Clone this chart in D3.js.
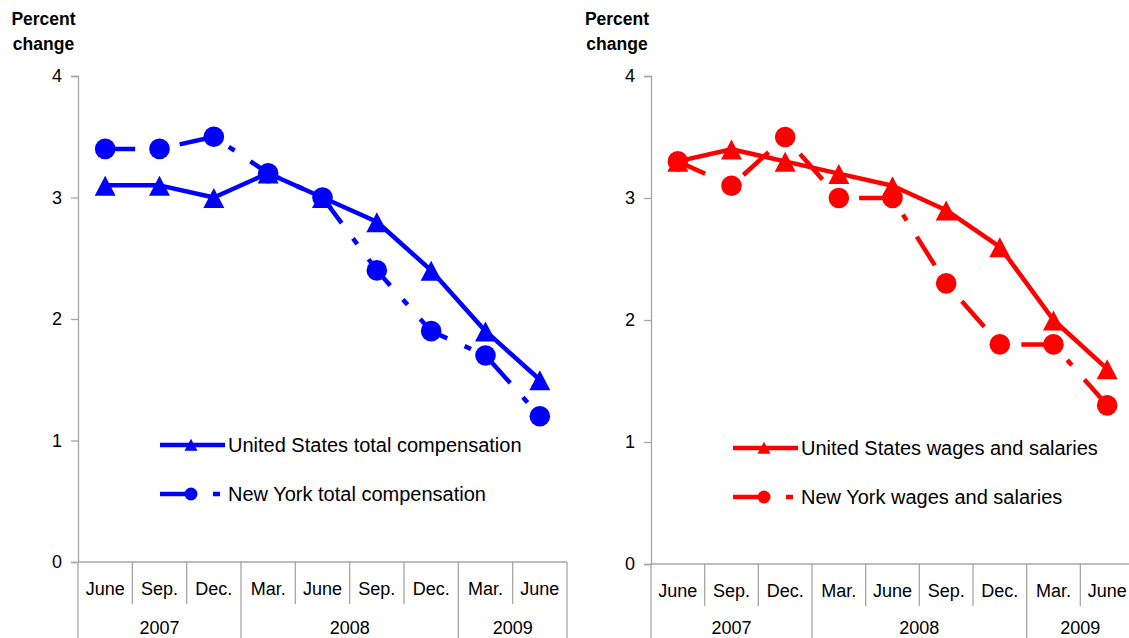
<!DOCTYPE html>
<html><head><meta charset="utf-8">
<script src="https://cdn.jsdelivr.net/npm/d3@7"></script>
<style>
body{margin:0;background:#fff;}
svg{display:block;font-family:"Liberation Sans",Arial,sans-serif;}
</style></head>
<body>
<svg id="chart" width="1129" height="638"></svg>
<script>
// ---- data ----
const periods = ["2007Q2","2007Q3","2007Q4","2008Q1","2008Q2","2008Q3","2008Q4","2009Q1","2009Q2"];
const monthLabels = ["June","Sep.","Dec.","Mar.","June","Sep.","Dec.","Mar.","June"];
const years = ["2007","2008","2009"];
const yearCounts = [3,4,2];
const yTicks = [0,1,2,3,4];

const usTotalComp = [3.1,3.1,3.0,3.2,3.0,2.8,2.4,1.9,1.5];
const nyTotalComp = [3.4,3.4,3.5,3.2,3.0,2.4,1.9,1.7,1.2];
const usWages = [3.3,3.4,3.3,3.2,3.1,2.9,2.6,2.0,1.6];
const nyWages = [3.3,3.1,3.5,3.0,3.0,2.3,1.8,1.8,1.3];

const legendLeft = ["United States total compensation","New York total compensation"];
const legendRight = ["United States wages and salaries","New York wages and salaries"];

const svg = d3.select("#chart");
const dashPattern = "34,19,7,19";
const gray = "#a6a6a6";

function triPath(w,h){
  return `M0,${-h*0.53}L${w/2},${h*0.47}L${-w/2},${h*0.47}Z`;
}

function panel(cfg){
  const g = svg.append("g");
  const x = d3.scaleBand().domain(periods).range([cfg.x0, cfg.x1]);
  const y = d3.scaleLinear().domain([0,4]).range([cfg.yb, cfg.yt]);
  const cx = (i)=>x(periods[i])+x.bandwidth()/2;

  // y axis
  const ya = g.append("g").attr("transform",`translate(${cfg.x0},0)`)
    .call(d3.axisLeft(y).tickValues(yTicks).tickSize(7).tickPadding(9).tickFormat(d3.format("d")));
  ya.select(".domain").attr("stroke",gray).attr("stroke-width",1.3);
  ya.selectAll(".tick line").attr("stroke",gray).attr("stroke-width",1.3);
  ya.selectAll(".tick text").attr("font-size",18).attr("fill","#000")
    .attr("font-family","Liberation Sans, Arial, sans-serif");

  // y title
  const t = g.append("text").attr("font-weight","bold").attr("font-size",17.5).attr("fill","#000")
    .attr("text-anchor","middle");
  t.append("tspan").attr("x",cfg.titleX).attr("y",25).text("Percent");
  t.append("tspan").attr("x",cfg.titleX).attr("y",50).text("change");

  // x axis line
  g.append("line").attr("x1",cfg.x0).attr("x2",cfg.x1).attr("y1",cfg.yb).attr("y2",cfg.yb)
    .attr("stroke",gray).attr("stroke-width",1.3);
  const yearStarts = [];
  let acc = 0; yearCounts.forEach(c=>{yearStarts.push(acc); acc+=c;});
  periods.forEach((p,i)=>{
    const isYear = yearStarts.includes(i);
    g.append("line").attr("x1",x(p)).attr("x2",x(p))
      .attr("y1",cfg.yb).attr("y2", isYear ? 640 : cfg.yb+42)
      .attr("stroke",gray).attr("stroke-width",1.3);
    g.append("text").attr("x",cx(i)).attr("y",cfg.yb+33)
      .attr("text-anchor","middle").attr("font-size",18).attr("fill","#000").text(monthLabels[i]);
  });
  g.append("line").attr("x1",cfg.x1).attr("x2",cfg.x1).attr("y1",cfg.yb).attr("y2",640)
    .attr("stroke",gray).attr("stroke-width",1.3);
  years.forEach((yr,k)=>{
    const a = x(periods[yearStarts[k]]);
    const b = x(periods[yearStarts[k]+yearCounts[k]-1]) + x.bandwidth();
    g.append("text").attr("x",(a+b)/2).attr("y",634).attr("text-anchor","middle")
      .attr("font-size",18).attr("fill","#000").text(yr);
  });

  const line = d3.line().x((d,i)=>cx(i)).y(d=>y(d));
  // NY dashed (long dash - dot)
  g.append("path").datum(cfg.ny).attr("d",line).attr("fill","none").attr("stroke",cfg.color)
    .attr("stroke-width",4.5).attr("stroke-dasharray",dashPattern).attr("stroke-dashoffset",4);
  // US solid
  g.append("path").datum(cfg.us).attr("d",line).attr("fill","none").attr("stroke",cfg.color)
    .attr("stroke-width",4.5).attr("stroke-linejoin","round");

  g.selectAll(".ny").data(cfg.ny).enter().append("circle")
    .attr("cx",(d,i)=>cx(i)).attr("cy",d=>y(d)).attr("r",10.3).attr("fill",cfg.color);
  g.selectAll(".us").data(cfg.us).enter().append("path").attr("d",triPath(21,20))
    .attr("transform",(d,i)=>`translate(${cx(i)},${y(d)+1})`).attr("fill",cfg.color);

  // legend
  const lx = cfg.legX, ly1 = cfg.legY, ly2 = cfg.legY+49;
  g.append("line").attr("x1",lx).attr("x2",lx+65).attr("y1",ly1).attr("y2",ly1)
    .attr("stroke",cfg.color).attr("stroke-width",4.5);
  g.append("path").attr("d",triPath(13,12))
    .attr("transform",`translate(${lx+31},${ly1})`).attr("fill",cfg.color);
  g.append("text").attr("x",lx+68).attr("y",ly1+7).attr("font-size",20).attr("fill","#000").text(cfg.legend[0]);
  g.append("line").attr("x1",lx).attr("x2",lx+61).attr("y1",ly2).attr("y2",ly2)
    .attr("stroke",cfg.color).attr("stroke-width",4.5).attr("stroke-dasharray",dashPattern);
  g.append("circle").attr("cx",lx+31).attr("cy",ly2).attr("r",6.5).attr("fill",cfg.color);
  g.append("text").attr("x",lx+68).attr("y",ly2+7).attr("font-size",20).attr("fill","#000").text(cfg.legend[1]);
}

panel({x0:78,x1:567,yb:562,yt:76,titleX:43.5,color:"#0000ff",us:usTotalComp,ny:nyTotalComp,
  legend:legendLeft,legX:160,legY:445});
panel({x0:651,x1:1134,yb:564,yt:76,titleX:617,color:"#ff0000",us:usWages,ny:nyWages,
  legend:legendRight,legX:733,legY:448});
</script>
</body></html>
